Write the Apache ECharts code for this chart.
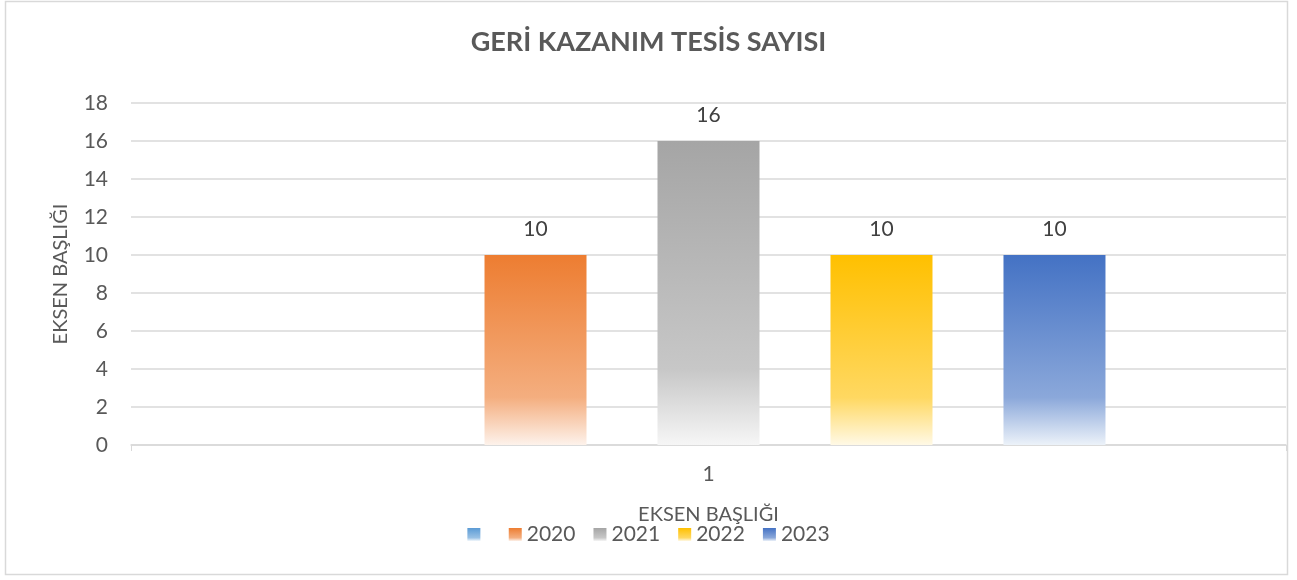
<!DOCTYPE html>
<html>
<head>
<meta charset="utf-8">
<script src="https://cdn.jsdelivr.net/npm/echarts@6/dist/echarts.min.js"></script>
<style>
  html, body { margin: 0; padding: 0; background: #fff; }
  #chart { width: 1297px; height: 580px; }
</style>
</head>
<body>
<div id="chart"></div>
<script>
// veriler
const categories = ["1"];
const seriesNames = [" ", "2020", "2021", "2022", "2023"];
const seriesValues = [
  [null],
  [10],
  [16],
  [10],
  [10]
];
const yTicks = { min: 0, max: 18, interval: 2 };

// renk: üst, 0.75 noktası, alt
const colors = [
  ["#5B9BD5", "#99C1E5", "#F3F8FC"],
  ["#ED7D31", "#F4AE7F", "#FDF2EB"],
  ["#A5A5A5", "#C7C7C7", "#F6F6F6"],
  ["#FFC000", "#FFD861", "#FFF9E6"],
  ["#4472C4", "#8BA8DA", "#ECF2F9"]
];

const fontFamily = "Lato, 'Open Sans', sans-serif";

let option = {
  backgroundColor: "#fff",
  animation: false,
  textStyle: { fontFamily: fontFamily },
  title: {
    text: "GERİ KAZANIM TESİS SAYISI",
    left: "center",
    top: 24,
    textStyle: {
      color: "#595959",
      fontSize: 27,
      fontWeight: "bold",
      fontFamily: fontFamily
    }
  },
  graphic: [
    {
      type: "rect",
      shape: { x: 5.5, y: 1.5, width: 1282, height: 573 },
      style: { fill: "none", stroke: "#D9D9D9", lineWidth: 1.5 },
      silent: true
    }
  ],
  grid: {
    left: 131,
    right: 11,
    top: 103,
    bottom: 135
  },
  legend: {
    bottom: 30,
    left: "center",
    itemWidth: 13,
    itemHeight: 13,
    itemGap: 18,
    icon: "rect",
    textStyle: { color: "#595959", fontSize: 21, fontFamily: fontFamily },
    data: seriesNames
  },
  xAxis: {
    type: "category",
    data: categories,
    name: "EKSEN BAŞLIĞI",
    nameLocation: "middle",
    nameGap: 60,
    nameTextStyle: { color: "#595959", fontSize: 20 },
    axisLine: { lineStyle: { color: "#D9D9D9", width: 1.5 } },
    axisTick: { show: true, length: 6, lineStyle: { color: "#D9D9D9" } },
    axisLabel: { color: "#595959", fontSize: 21, margin: 19 },
    splitLine: { show: false }
  },
  yAxis: {
    type: "value",
    min: yTicks.min,
    max: yTicks.max,
    interval: yTicks.interval,
    name: "EKSEN BAŞLIĞI",
    nameLocation: "middle",
    nameGap: 60,
    nameTextStyle: { color: "#595959", fontSize: 20 },
    axisLine: { show: false },
    axisTick: { show: false },
    axisLabel: { color: "#595959", fontSize: 21, margin: 23 },
    splitLine: { lineStyle: { color: "#D9D9D9", width: 1.5 } }
  },
  series: []
};

for (let i = 0; i < seriesNames.length; i++) {
  option.series.push({
    name: seriesNames[i],
    type: "bar",
    data: seriesValues[i],
    barWidth: 102,
    barGap: "69.6%",
    itemStyle: {
      color: new echarts.graphic.LinearGradient(0, 0, 0, 1, [
        { offset: 0, color: colors[i][0] },
        { offset: 0.75, color: colors[i][1] },
        { offset: 1, color: colors[i][2] }
      ])
    },
    label: {
      show: true,
      position: "top",
      distance: 15,
      color: "#404040",
      fontSize: 21
    }
  });
}

//çiz
const chartObj = echarts.init(document.getElementById("chart"));
chartObj.setOption(option);
window.addEventListener("resize", function () {
  chartObj.resize();
});
</script>
</body>
</html>
